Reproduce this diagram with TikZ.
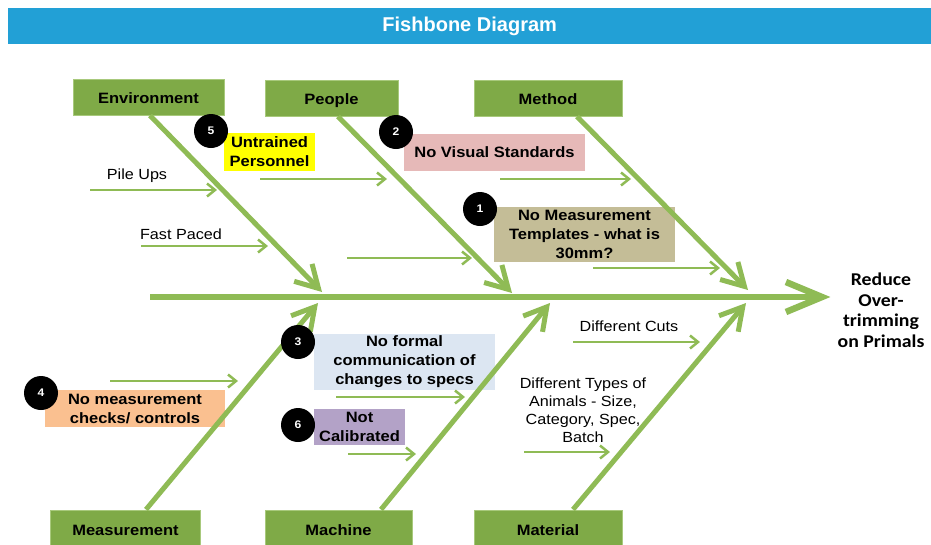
\documentclass[tikz,border=0pt]{standalone}
\usepackage{fontspec}
\setmainfont{Liberation Sans}[FakeStretch=1.1]
\newfontfamily\titlefont{Liberation Sans}
\newfontfamily\effectfont{Carlito}[FakeStretch=1.1]
\usepackage{xcolor}
\usepackage{tikz}
\usetikzlibrary{arrows.meta}
\usetikzlibrary{positioning}

\definecolor{titleblue}{HTML}{22A0D6}
\definecolor{catgreen}{HTML}{7FAA47}
\definecolor{catedge}{HTML}{A8C97C}
\definecolor{bonegreen}{HTML}{8FBB55}
\definecolor{causeyellow}{HTML}{FFFF00}
\definecolor{causepink}{HTML}{E6B9B8}
\definecolor{causetan}{HTML}{C4BD97}
\definecolor{causeblue}{HTML}{DCE6F2}
\definecolor{causeorange}{HTML}{FAC090}
\definecolor{causepurple}{HTML}{B3A2C7}

\tikzset{
   category/.style={fill=catgreen, draw=catedge, line width=1, minimum height=36, inner sep=0,
      text height=13, text depth=0, font=\bfseries\fontsize{15}{18}\selectfont},
   cause/.style={align=center, inner sep=0, font=\bfseries\fontsize{15}{19}\selectfont},
   plain/.style={align=center, inner sep=0, font=\fontsize{14.7}{18}\selectfont},
   num/.style={circle, fill=black, minimum size=34, inner sep=0, text=white,
      font=\bfseries\fontsize{11}{11}\selectfont},
   bone/.style={draw=bonegreen, line width=5, -{Straight Barb[length=22, width=25]}},
   spine/.style={draw=bonegreen, line width=6.5, -{Straight Barb[length=36, width=30]}},
   rib/.style={draw=bonegreen, line width=2.5, -{Straight Barb[length=8, width=13]}}
}

\begin{document}
\begin{tikzpicture}[x=1pt, y=-1pt]
   \useasboundingbox (0,0) rectangle (931,544);
   % title bar
   \node[fill=titleblue, minimum width=923, minimum height=36, inner sep=0, anchor=north west,
      text=white, font=\titlefont\bfseries\fontsize{20}{22}\selectfont] (title) at (8,8) {Fishbone Diagram};

   % categories
   \node[category, minimum width=151] (environment) at (148.5,97) {Environment};
   \node[category, minimum width=133] (people) at (331.5,98) {People};
   \node[category, minimum width=148] (method) at (548,98) {Method};
   \node[category, minimum width=150, minimum height=38] (measurement) at (125.5,529) {Measurement};
   \node[category, minimum width=147, minimum height=38] (machine) at (338.5,529) {Machine};
   \node[category, minimum width=148, minimum height=38] (material) at (548,529) {Material};

   % causes
   \node[cause, fill=causeyellow, minimum width=91, minimum height=38] (untrained) at (269.5,152) {Untrained\\Personnel};
   \node[cause, fill=causepink, minimum width=181, minimum height=37] (novisual) at (494.5,152.5) {No Visual Standards};
   \node[cause, fill=causetan, minimum width=181, minimum height=55] (notemplate) at (584.5,234.5) {No Measurement\\Templates - what is\\30mm?};
   \node[cause, fill=causeblue, minimum width=181, minimum height=56] (noformal) at (404.5,362) {No formal\\communication of\\changes to specs};
   \node[cause, fill=causeorange, minimum width=180, minimum height=37] (nocheck) at (135,408.5) {No measurement\\checks/ controls};
   \node[cause, fill=causepurple, minimum width=91, minimum height=36] (notcal) at (359.5,427) {Not\\Calibrated};

   \node[plain] (pileups) at (137,176) {Pile Ups};
   \node[plain] (fastpaced) at (181,234) {Fast Paced};
   \node[plain] (cuts) at (629,326) {Different Cuts};
   \node[plain] (types) at (583,410) {Different Types of\\Animals - Size,\\Category, Spec,\\Batch};

   % small arrows onto the bones
   \foreach \xa/\ya/\xb in {90/190/217, 141/246/268, 260/179/387, 347/258/472, 500/179/631,
         593/268/720, 110/381/238, 336/397/465, 348/454/416, 573/342/700, 524/452/610}
      \draw[rib] (\xa,\ya) -- (\xb,\ya);

   % bones
   \coordinate (envEnd) at (322,292);
   \coordinate (peopleEnd) at (512,293);
   \coordinate (methodEnd) at (748,290);
   \coordinate (measEnd) at (318,303);
   \coordinate (machEnd) at (550,303);
   \coordinate (matEnd) at (746,303);
   \draw[bone] ([xshift=1.5]environment.south) -- (envEnd);
   \draw[bone] ([xshift=6.5]people.south) -- (peopleEnd);
   \draw[bone] ([xshift=29]method.south) -- (methodEnd);
   \draw[bone] ([xshift=20.5]measurement.north) -- (measEnd);
   \draw[bone] ([xshift=42.5]machine.north) -- (machEnd);
   \draw[bone] ([xshift=25]material.north) -- (matEnd);

   % head
   \node[align=center, inner sep=7, font=\effectfont\bfseries\fontsize{18}{20.5}\selectfont] (effect) at (881,310)
      {Reduce\\Over-\\trimming\\on Primals};
   \coordinate (tail) at (150,297);
   \draw[spine] (tail) -- (tail -| effect.west);

   % numbers
   \node[num] (n5) at (211,131) {5};
   \node[num] (n2) at (396,132) {2};
   \node[num] (n1) at (480,209) {1};
   \node[num] (n3) at (298,342) {3};
   \node[num] (n4) at (41,393) {4};
   \node[num] (n6) at (298,425) {6};
\end{tikzpicture}
\end{document}
